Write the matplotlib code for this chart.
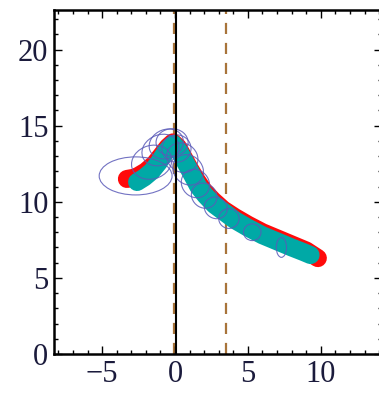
import numpy as np
import matplotlib
matplotlib.use("Agg")
import matplotlib.pyplot as plt
from matplotlib.patches import Ellipse

# true path (red)
true_x = [-3.3, -2.7, -2.0, -1.4, -0.9, -0.5, -0.15, 0.2, 0.6, 1.0, 1.5, 2.0, 2.6, 3.3, 4.1, 5.0, 6.0, 7.0, 8.0, 9.0, 9.8]
true_y = [11.5, 11.6, 12.0, 12.5, 13.1, 13.6, 13.9, 13.6, 12.9, 12.2, 11.4, 10.7, 10.1, 9.5, 9.0, 8.5, 8.0, 7.6, 7.2, 6.8, 6.3]
# estimated path (teal)
est_x = [-2.6, -2.1, -1.6, -1.1, -0.7, -0.35, -0.1, 0.3, 0.7, 1.1, 1.6, 2.1, 2.7, 3.4, 4.1, 5.0, 6.0, 7.0, 8.0, 8.8, 9.3]
est_y = [11.3, 11.6, 12.0, 12.6, 13.2, 13.6, 13.8, 13.3, 12.6, 11.9, 11.0, 10.4, 9.8, 9.3, 8.8, 8.3, 7.8, 7.4, 7.0, 6.7, 6.5]
# covariance ellipses: centre x, centre y, width, height, angle
ell_x = [-2.7, -1.6, -1.0, -0.6, -0.2, 0.1, 0.5, 0.9, 1.4, 2.0, 2.8, 3.7, 5.3, 7.3]
ell_y = [11.7, 12.6, 13.4, 13.8, 13.9, 13.5, 12.9, 12.1, 11.2, 10.4, 9.6, 8.9, 8.0, 7.0]
ell_w = [5.0, 2.8, 2.6, 2.4, 2.2, 2.0, 2.2, 2.2, 2.0, 1.8, 1.6, 1.4, 1.2, 0.7]
ell_h = [2.5, 2.2, 2.0, 1.9, 1.8, 1.8, 1.9, 1.9, 1.8, 1.6, 1.4, 1.3, 1.1, 1.3]
ell_a = [0, 15, 20, 20, 0, 0, -25, -35, -35, -30, -20, 0, 0, 0]

vlines_solid = [0.0]
vlines_dash = [-0.05, 3.5]

xticks = [-5, 0, 5, 10]
yticks = [0, 5, 10, 15, 20]

plt.rcParams['font.family'] = ['Liberation Serif', 'DejaVu Serif']

fig = plt.figure(figsize=(3.79, 4.0), dpi=100)
ax = fig.add_axes([54 / 379, 1 - 354 / 400, (382 - 54) / 379, (354 - 10) / 400])
ax.set_xlim(-8.3, 14.2)
ax.set_ylim(0, 22.6)

ax.plot(true_x, true_y, color='#ff0a0a', lw=13, solid_capstyle='round', zorder=2)
ax.plot(est_x, est_y, color='#00a9a6', lw=13, solid_capstyle='round', zorder=3)

for cx, cy, w, h, a in zip(ell_x, ell_y, ell_w, ell_h, ell_a):
    ax.add_patch(Ellipse((cx, cy), w, h, angle=a, fill=False,
                         edgecolor='#5a5ab8', lw=0.8, alpha=0.85, zorder=4))

for v in vlines_dash:
    ax.axvline(v, color='#a8743a', lw=1.6, ls=(0, (5, 4)), zorder=1)
for v in vlines_solid:
    ax.axvline(v + 0.05, color='black', lw=1.5, zorder=5)

ax.set_xticks(xticks)
ax.set_xticklabels(['\u22125', '0', '5', '10'])
ax.set_yticks(yticks)
ax.xaxis.set_minor_locator(plt.MultipleLocator(1))
ax.yaxis.set_minor_locator(plt.MultipleLocator(1))
ax.tick_params(which='both', direction='in', top=True, right=True,
               labelsize=22, labelcolor='#1b1b3c', width=1.0, pad=4)
ax.tick_params(which='major', length=6)
ax.tick_params(which='minor', length=3)
for s in ax.spines.values():
    s.set_linewidth(1.8)

fig.savefig('out.png', dpi=100)
